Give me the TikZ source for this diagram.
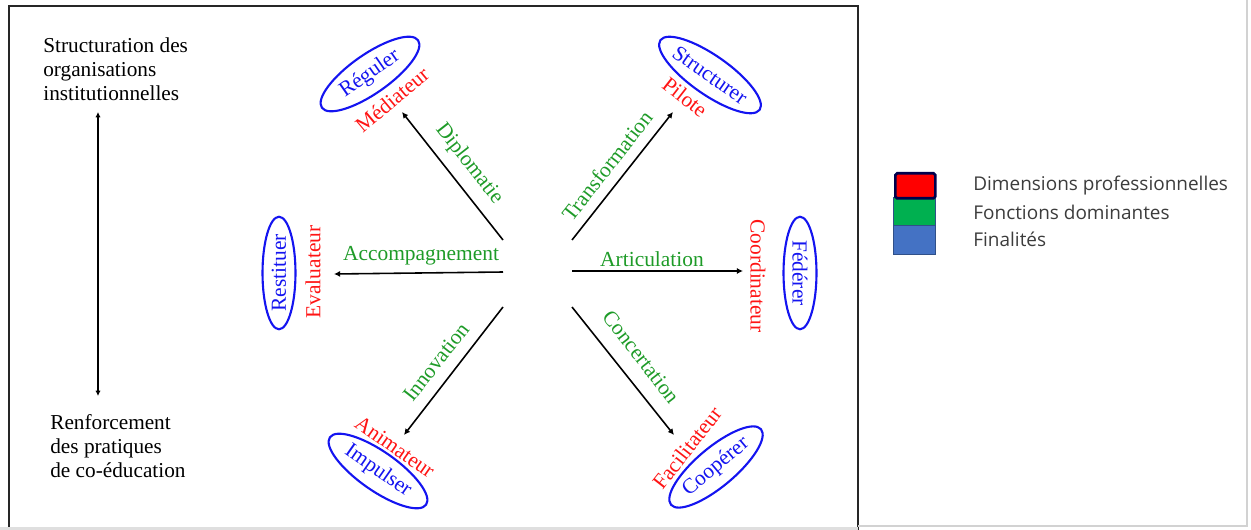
\documentclass[tikz,border=0pt]{standalone}
\usepackage{fontspec}
\setmainfont{Liberation Serif}
\newfontfamily\legendfont{Open Sans}
\usetikzlibrary{shapes.geometric,arrows.meta}
\definecolor{lblgreen}{RGB}{30,155,40}
\definecolor{lblred}{RGB}{255,20,20}
\definecolor{ellblue}{RGB}{20,20,240}
\definecolor{legred}{RGB}{255,0,0}
\definecolor{leggreen}{RGB}{0,176,80}
\definecolor{legblue}{RGB}{68,114,196}
\definecolor{legtext}{RGB}{60,60,60}
\tikzset{
  conn/.style={line width=0.9pt,-{Latex[length=3.5pt,width=3.5pt]}},
  fn/.style={text=lblgreen,font=\fontsize{12.2}{14}\selectfont,inner sep=1pt},
  dim/.style={text=lblred,font=\fontsize{12.2}{14}\selectfont,inner sep=1pt},
  fin/.style={ellipse,draw=ellblue,line width=1.2pt,text=ellblue,font=\fontsize{12.2}{14}\selectfont,inner sep=0pt,minimum width=3.4cm,minimum height=0.78cm},
  side/.style={align=left,font=\fontsize{12.1}{13.8}\selectfont,anchor=north west,inner sep=0pt},
  legbox/.style={minimum width=0.84cm,inner sep=0pt},
  legtxt/.style={text=legtext,font=\legendfont\fontsize{10.8}{13}\selectfont,anchor=west,inner sep=0pt}
}
\begin{document}
\begin{tikzpicture}[x=0.02cm,y=-0.02cm]
\useasboundingbox (0,0) rectangle (1251,530);
% window frames
\draw[line width=1.2pt,black!85] (9,540) -- (9,6) -- (858,6) -- (858,540);
\draw[gray!35,line width=1pt] (858,526) -- (1247,526) -- (1247,-5);
\fill[gray!25] (0,527) rectangle (858,530);
% left axis
\node[side] (top) at (43,37) {Structuration des\\organisations\\institutionnelles};
\node[side] (bot) at (50,414) {Renforcement\\des pratiques\\de co-éducation};
\coordinate (ax1) at (98,112);
\coordinate (ax2) at (98,396);
\draw[line width=0.9pt,{Latex[length=3pt,width=3pt]}-{Latex[length=3pt,width=3pt]}] (ax1) -- (ax2);
% centre connectors
\coordinate (cul) at (503,240); \coordinate (eul) at (402,112);
\coordinate (cur) at (572,240); \coordinate (eur) at (673,112);
\coordinate (cl) at (503,272);  \coordinate (el) at (334,274);
\coordinate (cr) at (572,271);  \coordinate (er) at (743,271);
\coordinate (cdl) at (503,307); \coordinate (edl) at (404,435);
\coordinate (cdr) at (572,307); \coordinate (edr) at (674,435);
\draw[conn] (cul) -- (eul);
\draw[conn] (cur) -- (eur);
\draw[conn] (cl) -- (el);
\draw[conn] (cr) -- (er);
\draw[conn] (cdl) -- (edl);
\draw[conn] (cdr) -- (edr);
% functions (green)
\node[fn,rotate=-52] (f1) at (469,164) {Diplomatie};
\node[fn,rotate=52] (f2) at (607,166) {Transformation};
\node[fn] (f3) at (421,256) {Accompagnement};
\node[fn] (f4) at (652,259) {Articulation};
\node[fn,rotate=52] (f5) at (436,362) {Innovation};
\node[fn,rotate=-52] (f6) at (641,357) {Concertation};
% dimensions (red)
\node[dim,rotate=40] (d1) at (392,100) {Médiateur};
\node[dim,rotate=-38] (d2) at (685,97) {Pilote};
\node[dim,rotate=90] (d3) at (313,272) {Evaluateur};
\node[dim,rotate=-90] (d4) at (758,276) {Coordinateur};
\node[dim,rotate=-35] (d5) at (395,447) {Animateur};
\node[dim,rotate=52] (d6) at (687,448) {Facilitateur};
% finalities (blue ellipses)
\node[fin,rotate=35,minimum width=2.35cm] (e1) at (370,74) {Réguler};
\node[fin,rotate=-35,minimum width=2.4cm] (e2) at (710,75) {Structurer};
\node[fin,rotate=90,minimum width=2.25cm,minimum height=0.66cm] (e3) at (279,273) {Restituer};
\node[fin,rotate=-90,minimum width=2.25cm,minimum height=0.66cm] (e4) at (800,273) {Fédérer};
\node[fin,rotate=-35,minimum width=2.35cm] (e5) at (378,471) {Impulser};
\node[fin,rotate=40,minimum width=2.35cm] (e6) at (716,467) {Coopérer};
% legend
\node[legbox,fill=legblue,draw=legblue!70!black,line width=0.5pt,minimum height=0.58cm,anchor=north west] (lb) at (893,225) {};
\node[legbox,fill=leggreen,draw=legblue!70!black,line width=0.5pt,minimum height=0.56cm,anchor=north west] (lg) at (893,197) {};
\node[legbox,fill=legred,draw=blue!30!black,line width=1.5pt,minimum height=0.5cm,minimum width=0.8cm,rounded corners=1pt,anchor=north west] (lr) at (894,172) {};
\node[legtxt] (t1) at (973,186) {Dimensions professionnelles};
\node[legtxt] (t2) at (973,212) {Fonctions dominantes};
\node[legtxt] (t3) at (973,239) {Finalités};
\end{tikzpicture}
\end{document}
